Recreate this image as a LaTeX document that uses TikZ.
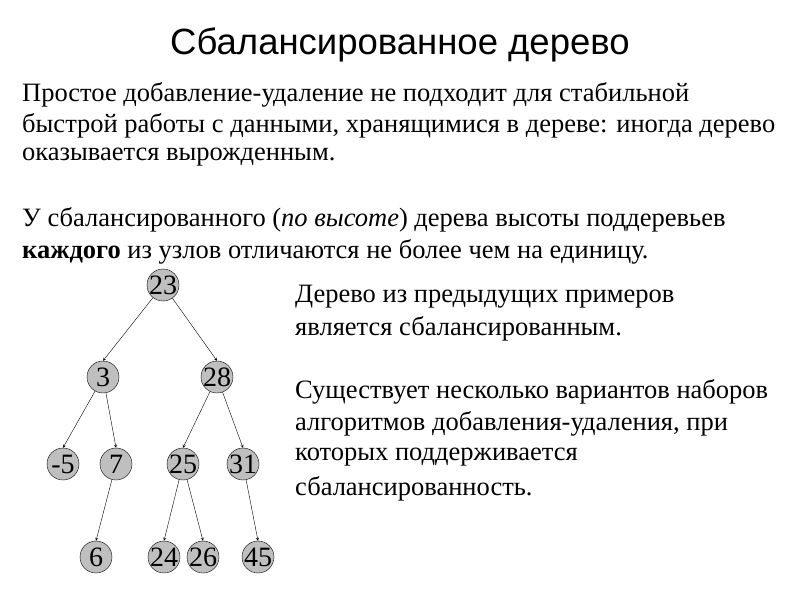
\documentclass[tikz,border=0pt]{standalone}
\usepackage{fontspec}
\setmainfont{Liberation Serif}
\setsansfont{Liberation Sans}
\begin{document}
\begin{tikzpicture}[x=1pt,y=-1pt,
  tn/.style={circle,draw=black,fill=black!25,minimum size=32pt,inner sep=-4pt,font=\fontsize{28}{28}\selectfont},
  ed/.style={->,>=stealth,thin},
  tx/.style={anchor=west,inner sep=0pt,font=\fontsize{26.5}{26.5}\selectfont}]
\useasboundingbox (0,0) rectangle (800,600);
\node (title) at (400,45) {\sffamily\fontsize{36.5}{36.5}\selectfont Сбалансированное дерево};
\node[tx] (l1) at (22,95) {Простое добавление-удаление не подходит для стабильной};
\node[tx] (l2) at (22,126) {быстрой работы с данными, хранящимися в дереве: иногда дерево};
\node[tx] (l3) at (22,157) {оказывается вырожденным.};
\node[tx] (l4) at (22,220) {У сбалансированного (\textit{по высоте}) дерева высоты поддеревьев};
\node[tx] (l5) at (22,252) {\textbf{каждого} из узлов отличаются не более чем на единицу.};
\node[tx] (r1) at (295,297) {Дерево из предыдущих примеров};
\node[tx] (r2) at (295,329) {является сбалансированным.};
\node[tx] (r3) at (295,392) {Существует несколько вариантов наборов};
\node[tx] (r4) at (295,424) {алгоритмов добавления-удаления, при};
\node[tx] (r5) at (295,457) {которых поддерживается};
\node[tx] (r6) at (295,489) {сбалансированность.};
\node[tn] (n23) at (163,285) {23};
\node[tn] (n3) at (103,377) {3};
\node[tn] (n28) at (217,377) {28};
\node[tn] (nm5) at (63,464) {-5};
\node[tn] (n7) at (116,464) {7};
\node[tn] (n25) at (183,464) {25};
\node[tn] (n31) at (243,464) {31};
\node[tn] (n6) at (96,557) {6};
\node[tn] (n24) at (164,557) {24};
\node[tn] (n26) at (203,557) {26};
\node[tn] (n45) at (258,557) {45};
\draw[ed] (n23) -- (n3.north);
\draw[ed] (n23) -- (n28.north);
\draw[ed] (n3) -- (nm5.north);
\draw[ed] (n3) -- (n7.north);
\draw[ed] (n28) -- (n25.north);
\draw[ed] (n28) -- (n31.north);
\draw[ed] (n7) -- (n6.north);
\draw[ed] (n25) -- (n24.north);
\draw[ed] (n25) -- (n26.north);
\draw[ed] (n31) -- (n45.north);
\end{tikzpicture}
\end{document}
